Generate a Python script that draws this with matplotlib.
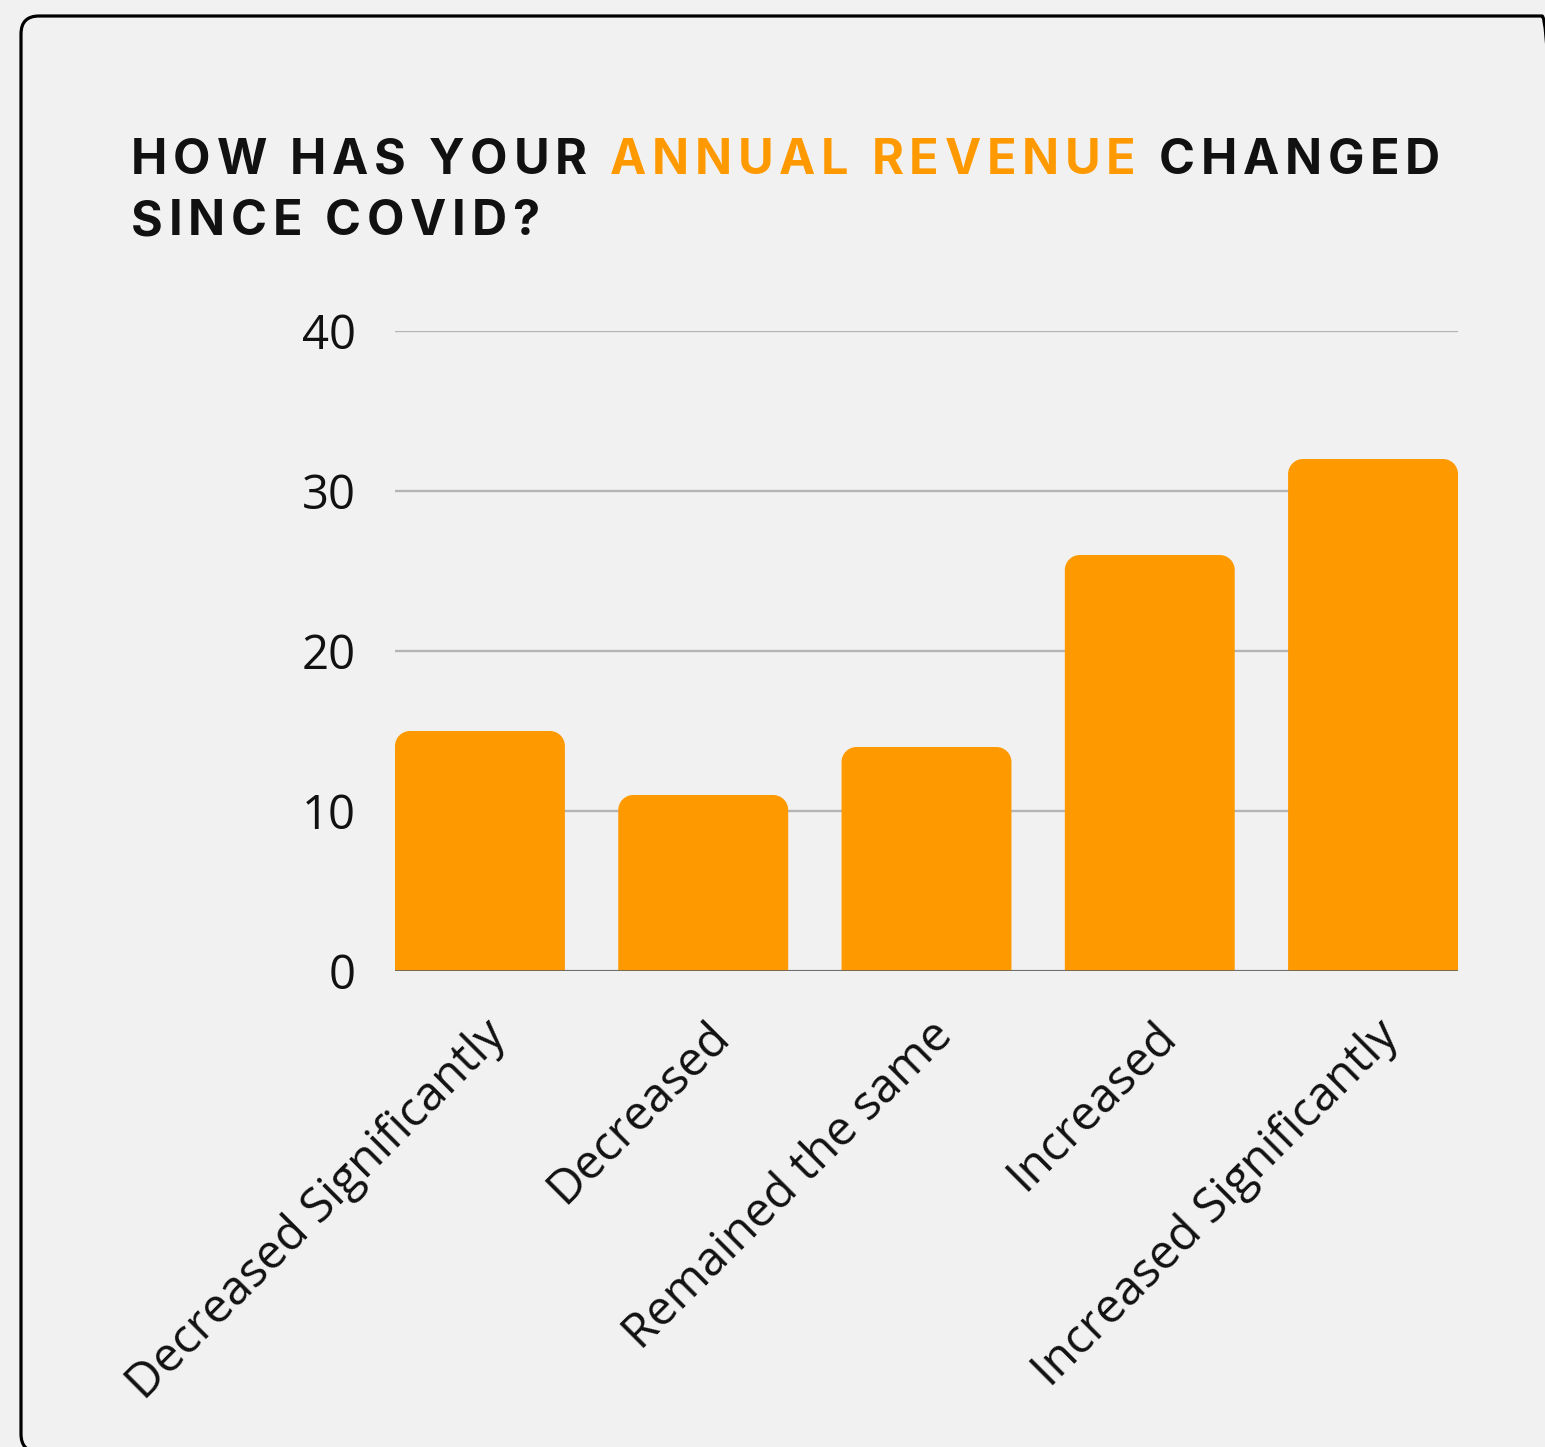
import matplotlib
matplotlib.use("Agg")
import matplotlib.pyplot as plt
from matplotlib.patches import FancyBboxPatch, PathPatch
from matplotlib.path import Path
from matplotlib.transforms import ScaledTranslation
from matplotlib.font_manager import FontProperties

# survey answers and response counts
categories = ["Decreased Significantly", "Decreased", "Remained the same",
              "Increased", "Increased Significantly"]
counts = [15, 11, 14, 26, 32]
y_ticks = [0, 10, 20, 30, 40]

title_parts = [
    [("HOW HAS YOUR ", "#111111"), ("ANNUAL REVENUE", "#ff9900"), (" CHANGED", "#111111")],
    [("SINCE COVID?", "#111111")],
]

BG = "#f1f1f1"
ORANGE = "#ff9900"
W, H = 1545, 1447
DPI = 100
LABEL_FONT = "Open Sans"

fig = plt.figure(figsize=(W / DPI, H / DPI), dpi=DPI, facecolor=BG)

# card outline (inches), runs off the right and bottom edges
x0, x1 = 21 / DPI, 1560 / DPI
y1, y0 = (H - 16) / DPI, (H - 1452) / DPI
card = FancyBboxPatch((x0, y0), x1 - x0, y1 - y0,
                      boxstyle="round,pad=0,rounding_size=0.18",
                      transform=fig.dpi_scale_trans, facecolor="none",
                      edgecolor="black", linewidth=2.3, clip_on=False)
fig.patches.append(card)

ax = fig.add_axes([395 / W, 1 - 971 / H, (1458 - 395) / W, (971 - 331) / H])
ax.set_facecolor(BG)
bw = 0.761
bars = ax.bar(range(len(categories)), counts, width=bw, color=ORANGE, zorder=2)
ax.set_xlim(-bw / 2, len(categories) - 1 + bw / 2)
ax.set_ylim(0, 40)
ax.set_yticks(y_ticks)
ax.yaxis.grid(True, color="#b4b4b4", linewidth=1.7, zorder=0)
ax.set_axisbelow(True)
ax.axhline(0, color="#5f5f5f", linewidth=1.9, zorder=3)
for s in ax.spines.values():
    s.set_visible(False)
ax.tick_params(length=0)
ax.tick_params(axis="y", pad=28, labelsize=34, labelcolor="#111111")
for lab in ax.get_yticklabels():
    lab.set_fontfamily(LABEL_FONT)

ax.set_xticks(range(len(categories)))
ax.set_xticklabels(categories, rotation=45, ha="right", va="baseline",
                   rotation_mode="anchor", fontsize=34.5, fontfamily=LABEL_FONT,
                   color="#111111")
ax.tick_params(axis="x", pad=0)
for lab in ax.get_xticklabels():
    lab.set_transform(lab.get_transform() +
                      ScaledTranslation(28 / DPI, -67 / DPI, fig.dpi_scale_trans))

# swap plain rectangles for bars with rounded tops
fig.canvas.draw()
px_per_x = ax.transData.transform((1, 0))[0] - ax.transData.transform((0, 0))[0]
px_per_y = ax.transData.transform((0, 1))[1] - ax.transData.transform((0, 0))[1]
r = 15
rx, ry = r / px_per_x, r / px_per_y
k = 0.5523
for b in bars:
    bx0 = b.get_x()
    bx1 = bx0 + b.get_width()
    h = b.get_height()
    verts = [(bx0, 0), (bx0, h - ry),
             (bx0, h - ry + k * ry), (bx0 + rx - k * rx, h), (bx0 + rx, h),
             (bx1 - rx, h),
             (bx1 - rx + k * rx, h), (bx1, h - ry + k * ry), (bx1, h - ry),
             (bx1, 0), (bx0, 0)]
    codes = [Path.MOVETO, Path.LINETO,
             Path.CURVE4, Path.CURVE4, Path.CURVE4,
             Path.LINETO,
             Path.CURVE4, Path.CURVE4, Path.CURVE4,
             Path.LINETO, Path.CLOSEPOLY]
    ax.add_patch(PathPatch(Path(verts, codes), facecolor=ORANGE,
                           edgecolor="none", zorder=2))
    b.set_visible(False)

# letter-spaced title, one glyph at a time
renderer = fig.canvas.get_renderer()
title_font = dict(family="Inter", weight="bold", size=35)
fp = FontProperties(**title_font)


def width(s):
    return renderer.get_text_width_height_descent(s, fp, ismath=False)[0]


def advance(ch):
    return width("I" + ch + "I") - width("II")


line1 = "".join(t for t, _ in title_parts[0])
natural = sum(advance(c) for c in line1)
tracking = (1440 - 131 - natural) / (len(line1) - 1)

for baseline, parts in zip([174, 235], title_parts):
    x = 131
    for text, color in parts:
        for ch in text:
            fig.text(x / W, 1 - baseline / H, ch, color=color, ha="left",
                     va="baseline", **title_font)
            x += advance(ch) + tracking

fig.savefig("out.png", dpi=DPI, facecolor=BG)
